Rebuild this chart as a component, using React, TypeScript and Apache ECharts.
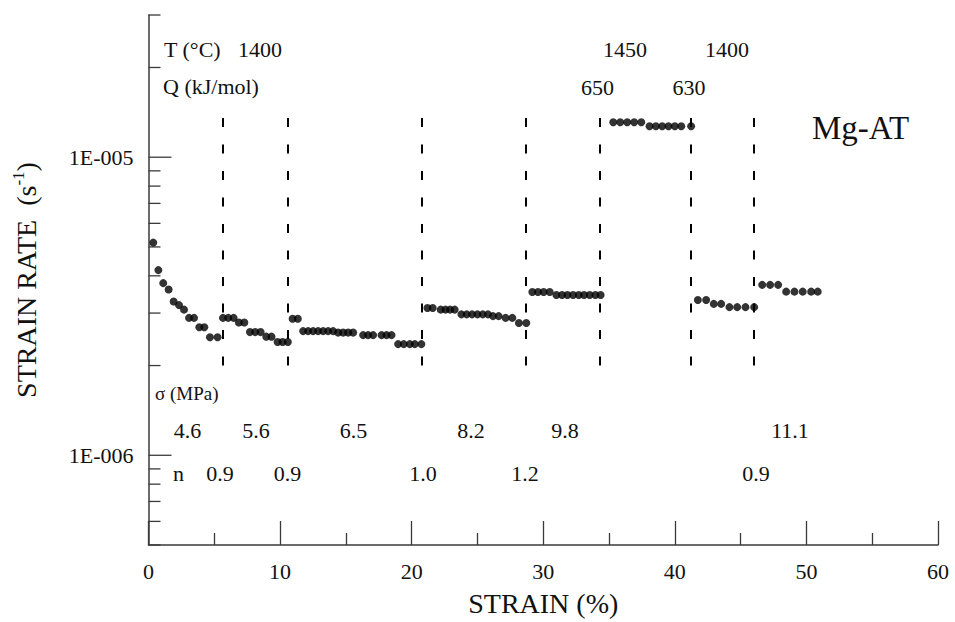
import React, { useEffect, useRef } from 'react';
import * as echarts from 'echarts';

// ---- data (strain in %, strain rate in units of 1e-6 s^-1) ----
const strain = [
  0.36, 0.75, 1.12, 1.53, 1.91, 2.32, 2.70, 3.08, 3.46, 3.86, 4.24, 4.67, 5.25,
  5.66, 6.06, 6.47, 6.87, 7.28, 7.71, 8.11, 8.52, 8.95, 9.35, 9.81, 10.19, 10.59,
  10.95, 11.35, 11.75, 12.13, 12.51, 12.89, 13.27, 13.65, 14.03, 14.41, 14.79, 15.17, 15.55,
  16.31, 16.69, 17.07, 17.71, 18.09, 18.47, 18.97, 19.40, 19.86, 20.24, 20.74,
  21.20, 21.60, 22.21, 22.57, 22.92, 23.27, 23.78, 24.18, 24.59, 25.00, 25.40, 25.80,
  26.18, 26.61, 27.14, 27.65, 28.15, 28.71,
  29.17, 29.60, 30.03, 30.49, 31.00, 31.43, 31.84, 32.27, 32.70, 33.10, 33.53, 33.96, 34.36,
  35.32, 35.85, 36.38, 36.91, 37.45, 38.08, 38.56, 39.04, 39.52, 40.00, 40.49, 41.24,
  41.75, 42.38, 42.96, 43.52, 44.15, 44.74, 45.37, 46.03,
  46.64, 47.24, 47.85, 48.46, 49.09, 49.72, 50.36, 50.86,
];
const rate = [
  5.17, 4.18, 3.78, 3.60, 3.28, 3.19, 3.08, 2.89, 2.89, 2.69, 2.69, 2.49, 2.49,
  2.89, 2.89, 2.89, 2.79, 2.79, 2.59, 2.59, 2.59, 2.50, 2.50, 2.40, 2.40, 2.40,
  2.87, 2.87, 2.61, 2.61, 2.61, 2.61, 2.61, 2.61, 2.61, 2.58, 2.58, 2.58, 2.58,
  2.53, 2.53, 2.53, 2.53, 2.53, 2.53, 2.36, 2.36, 2.36, 2.36, 2.36,
  3.12, 3.12, 3.08, 3.08, 3.08, 3.08, 2.97, 2.97, 2.97, 2.97, 2.97, 2.97,
  2.93, 2.93, 2.89, 2.89, 2.78, 2.78,
  3.53, 3.53, 3.53, 3.53, 3.45, 3.45, 3.45, 3.45, 3.45, 3.45, 3.45, 3.45, 3.45,
  13.1, 13.1, 13.1, 13.1, 13.1, 12.7, 12.7, 12.7, 12.7, 12.7, 12.7, 12.7,
  3.32, 3.32, 3.22, 3.22, 3.14, 3.14, 3.14, 3.14,
  3.73, 3.73, 3.73, 3.54, 3.54, 3.54, 3.54, 3.54,
];
const boundaries = [5.66, 10.6, 20.77, 28.64, 34.28, 41.2, 46.03];
const boundaryRange = [2.0e-6, 1.52e-5];
const yMinorTicks = [5e-7, 6e-7, 7e-7, 8e-7, 9e-7, 2e-6, 3e-6, 4e-6, 5e-6, 6e-6, 7e-6, 8e-6, 9e-6, 2e-5, 3e-5];
const yMajorTicks = [1e-6, 1e-5];
const tempLabels = ['1400', '1450', '1400'];
const qLabels = ['650', '630'];
const sigmaLabels = ['4.6', '5.6', '6.5', '8.2', '9.8', '11.1'];
const nLabels = ['0.9', '0.9', '1.0', '1.2', '0.9'];

const FONT = "'Liberation Serif', 'Times New Roman', Times, serif";
const INK = '#111';
const AXIS = '#3a3a3a';

export default function App() {
  const ref = useRef<HTMLDivElement>(null);
  useEffect(() => {
    if (!ref.current) return;
    const chart = echarts.init(ref.current, undefined, { renderer: 'svg' });

    const points = strain.map((s, i) => [s, rate[i] * 1e-6]);
    const tickData = [
      ...yMinorTicks.map((v) => [0, v, 0]),
      ...yMajorTicks.map((v) => [0, v, 1]),
    ];

    const txt = (text: string, x: number, y: number, size: number, align = 'left') => ({
      type: 'text',
      x,
      y,
      silent: true,
      style: { text, x: 0, y: 0, fontFamily: FONT, fontSize: size, fill: INK, align, verticalAlign: 'middle' },
    });

    // layout positions of annotations (pixels)
    const tempX = [260, 625, 727];
    const qX = [597.5, 689];
    const sigmaX = [187.5, 256, 353.5, 471, 565, 790];
    const nX = [220, 287.5, 423, 525, 756];

    const graphic: any[] = [
      txt('T (°C)', 164, 49, 22),
      txt('Q (kJ/mol)', 163, 86, 22),
      ...tempLabels.map((t, i) => txt(t, tempX[i], 49, 22, 'center')),
      ...qLabels.map((t, i) => txt(t, qX[i], 87, 22, 'center')),
      txt('Mg-AT', 812, 128, 33),
      txt('σ (MPa)', 155, 393, 19),
      ...sigmaLabels.map((t, i) => txt(t, sigmaX[i], 430, 22, 'center')),
      txt('n', 173, 473, 22),
      ...nLabels.map((t, i) => txt(t, nX[i], 473, 22, 'center')),
    ];

    chart.setOption({
      animation: false,
      textStyle: { fontFamily: FONT },
      grid: { left: 148.5, right: 17, top: 15, bottom: 74.3, containLabel: false },
      xAxis: {
        type: 'value',
        min: 0,
        max: 60,
        interval: 10,
        axisLine: { onZero: false, lineStyle: { color: AXIS, width: 1.5 } },
        axisTick: { inside: true, length: 24, lineStyle: { color: AXIS, width: 1.3 } },
        minorTick: { show: true, splitNumber: 2, length: 12, lineStyle: { color: AXIS, width: 1.3 } },
        splitLine: { show: false },
        minorSplitLine: { show: false },
        axisLabel: { fontFamily: FONT, fontSize: 22, color: INK, margin: 15 },
        name: 'STRAIN (%)',
        nameLocation: 'middle',
        nameGap: 44,
        nameTextStyle: { fontFamily: FONT, fontSize: 28, color: INK },
      },
      yAxis: {
        type: 'log',
        logBase: 10,
        min: 5e-7,
        max: 3e-5,
        axisLine: { show: true, onZero: false, lineStyle: { color: AXIS, width: 1.5 } },
        axisTick: { show: false },
        minorTick: { show: false },
        splitLine: { show: false },
        minorSplitLine: { show: false },
        axisLabel: {
          fontFamily: FONT,
          fontSize: 22,
          color: INK,
          margin: 15,
          formatter: (v: number) => {
            const e = Math.log10(v);
            const r = Math.round(e);
            if (Math.abs(e - r) > 1e-6) return '';
            return '1E-' + String(-r).padStart(3, '0');
          },
        },
        name: 'STRAIN RATE  (s{sup|-1})',
        nameLocation: 'middle',
        nameGap: 106,
        nameTextStyle: {
          fontFamily: FONT,
          fontSize: 28,
          color: INK,
          rich: { sup: { fontFamily: FONT, fontSize: 17, color: INK, padding: [0, 0, 16, 0] } },
        },
      },
      series: [
        {
          type: 'scatter',
          data: points,
          symbol: 'circle',
          symbolSize: 8,
          itemStyle: { color: '#000' },
          silent: true,
          markLine: {
            silent: true,
            symbol: ['none', 'none'],
            label: { show: false },
            lineStyle: { color: '#000', width: 2, type: [9, 17.5] },
            data: boundaries.map((b) => [
              { coord: [b, boundaryRange[0]] },
              { coord: [b, boundaryRange[1]] },
            ]),
          },
        },
        {
          type: 'custom',
          data: tickData,
          clip: false,
          silent: true,
          encode: { x: 0, y: 1 },
          renderItem: (_params: any, api: any) => {
            const v = api.value(1);
            const major = api.value(2) === 1;
            const p = api.coord([0, v]);
            const len = major ? 23 : 12;
            return {
              type: 'line',
              shape: { x1: p[0], y1: p[1], x2: p[0] + len, y2: p[1] },
              style: { stroke: AXIS, lineWidth: 1.3 },
            };
          },
        },
      ],
      graphic,
    });

    return () => chart.dispose();
  }, []);

  return (
    <div
      ref={ref}
      style={{ position: 'fixed', left: 0, top: 0, width: 955, height: 622, background: '#fff' }}
    />
  );
}
